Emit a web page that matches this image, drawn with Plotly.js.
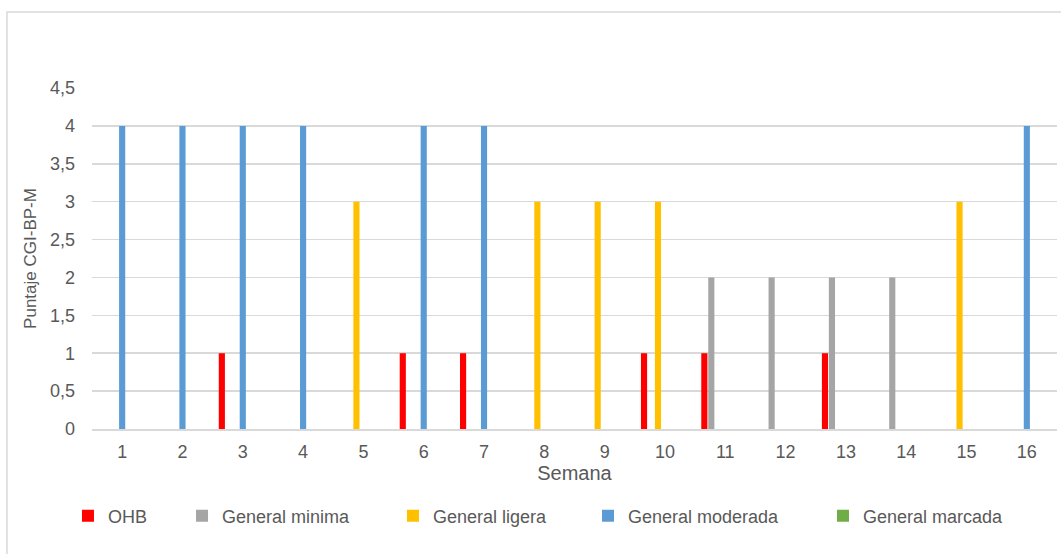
<!DOCTYPE html>
<html>
<head>
<meta charset="utf-8">
<script src="https://cdn.plot.ly/plotly-3.0.1.min.js"></script>
<style>
html,body{margin:0;padding:0;background:#fff;}
#chart{width:1061px;height:554px;}
</style>
</head>
<body>
<div id="chart"></div>
<script>
const weeks = ['1','2','3','4','5','6','7','8','9','10','11','12','13','14','15','16'];
const ohb            = [0,0,1,0,0,1,1,0,0,1,1,0,1,0,0,0];
const generalMinima  = [0,0,0,0,0,0,0,0,0,0,2,2,2,2,0,0];
const generalLigera  = [0,0,0,0,3,0,0,3,3,3,0,0,0,0,3,0];
const generalModerada= [4,4,4,4,0,4,4,0,0,0,0,0,0,0,0,4];
const generalMarcada = [0,0,0,0,0,0,0,0,0,0,0,0,0,0,0,0];
const generalGrave   = [0,0,0,0,0,0,0,0,0,0,0,0,0,0,0,0];
const extremGrave    = [0,0,0,0,0,0,0,0,0,0,0,0,0,0,0,0];
const yTickVals = [0,0.5,1,1.5,2,2.5,3,3.5,4,4.5];
const yTickText = ['0','0,5','1','1,5','2','2,5','3','3,5','4','4,5'];

const FONT = '"Liberation Sans", Arial, sans-serif';
function tr(name, y, color, show, leg){
  const t = {type:'bar', name:name, x:weeks, y:y, marker:{color:color, line:{width:0}},
          showlegend:show, hoverinfo:'x+y+name'};
  if (leg) t.legend = leg;
  return t;
}
const data = [
  tr('OHB', ohb, '#FF0000', true, 'legend'),
  tr('General minima', generalMinima, '#A5A5A5', true, 'legend2'),
  tr('General ligera', generalLigera, '#FFC000', true, 'legend3'),
  tr('General moderada', generalModerada, '#5B9BD5', true, 'legend4'),
  tr('General marcada', generalMarcada, '#70AD47', true, 'legend5'),
  tr('General grave', generalGrave, '#264478', false, null),
  tr('Extremadamente grave', extremGrave, '#9E480E', false, null)
];
function leg(x){
  return {orientation:'h', x:x, xanchor:'left', y:-0.255, yanchor:'middle',
          font:{size:18, color:'#595959'}, itemwidth:30, bgcolor:'rgba(0,0,0,0)'};
}
const layout = {
  width:1061, height:554,
  margin:{l:92, r:4, t:88, b:125},
  paper_bgcolor:'#fff', plot_bgcolor:'#fff',
  font:{family:FONT, size:18, color:'#595959'},
  barmode:'group', bargap:0.19, bargroupgap:0.12,
  xaxis:{type:'category', showgrid:false, zeroline:false, showline:true, linecolor:'#D9D9D9', linewidth:1.5,
         ticks:'', tickfont:{size:18, color:'#595959'}, ticklabelstandoff:6,
         title:{text:'Semana', font:{size:20, color:'#595959'}, standoff:3}},
  yaxis:{range:[0,4.5], tickvals:yTickVals, ticktext:yTickText, showgrid:true, gridcolor:'#D9D9D9', gridwidth:1.5,
         zeroline:false, showline:false, ticks:'', tickfont:{size:18, color:'#595959'}, ticklabelstandoff:16,
         title:{text:'Puntaje CGI-BP-M', font:{size:17, color:'#595959'}, standoff:9}},
  legend:leg(-0.0249),
  legend2:leg(0.0933),
  legend3:leg(0.3119),
  legend4:leg(0.5140),
  legend5:leg(0.7575),
  shapes:[{type:'rect', xref:'paper', yref:'paper', x0:-0.0881, x1:1.03, y0:-0.5, y1:1.2229,
           line:{color:'#D9D9D9', width:1.5}, fillcolor:'rgba(0,0,0,0)', layer:'below'}]
};
Plotly.newPlot('chart', data, layout, {displayModeBar:false, staticPlot:true});
</script>
</body>
</html>
